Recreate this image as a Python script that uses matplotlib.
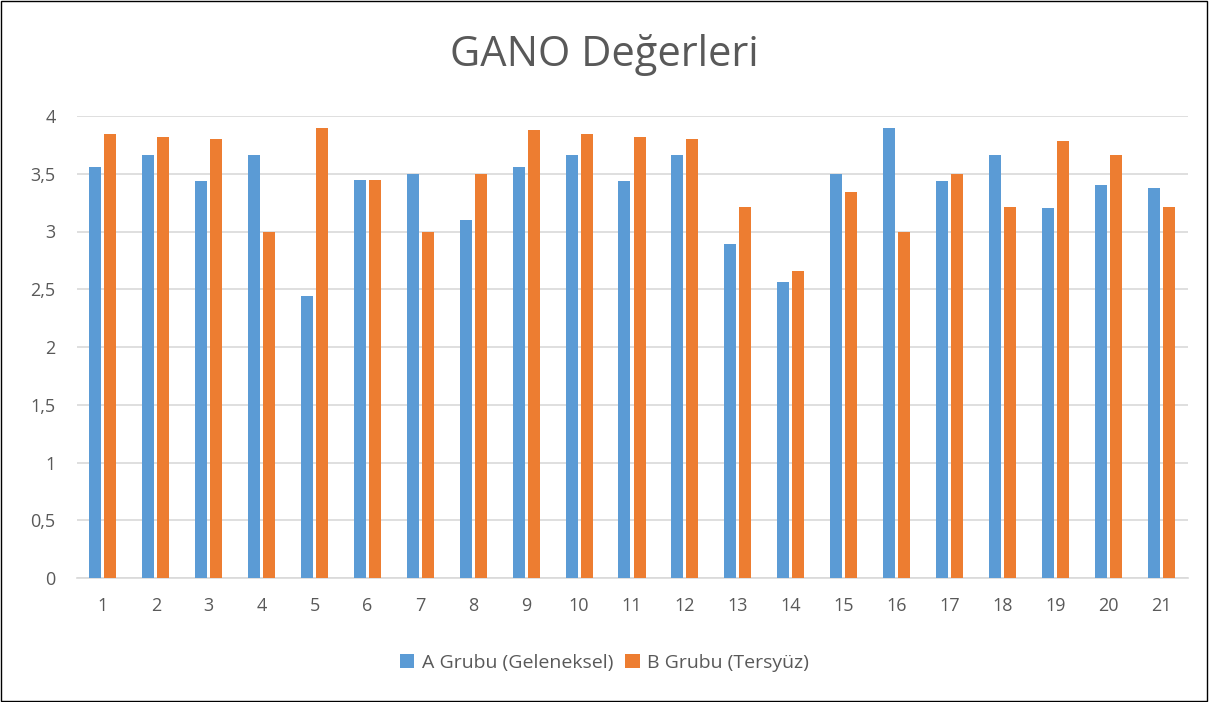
import numpy as np
import matplotlib
matplotlib.use("Agg")
import matplotlib.pyplot as plt
from matplotlib.ticker import FuncFormatter
from matplotlib.patches import Rectangle

# data
categories = [str(i) for i in range(1, 22)]
grup_a = [3.56, 3.66, 3.44, 3.66, 2.44, 3.45, 3.50, 3.10, 3.56, 3.66, 3.44,
          3.66, 2.89, 2.56, 3.50, 3.90, 3.44, 3.66, 3.20, 3.40, 3.38]
grup_b = [3.84, 3.82, 3.80, 3.00, 3.90, 3.45, 3.00, 3.50, 3.88, 3.84, 3.82,
          3.80, 3.21, 2.66, 3.34, 3.00, 3.50, 3.21, 3.78, 3.66, 3.21]
series_names = ["A Grubu (Geleneksel)", "B Grubu (Tersyüz)"]
title = "GANO Değerleri"

plt.rcParams['font.family'] = ['Open Sans', 'DejaVu Sans']
text_col = "#595959"
blue = "#5b9bd5"
orange = "#ed7d31"

fig = plt.figure(figsize=(12.09, 7.02), dpi=100)
ax = fig.add_axes([76.5 / 1209, 1 - 578 / 702, 1111 / 1209, 462 / 702])

x = np.arange(len(categories))
w = 0.227
off = 0.142
ax.bar(x - off, grup_a, w, color=blue, label=series_names[0], zorder=3)
ax.bar(x + off, grup_b, w, color=orange, label=series_names[1], zorder=3)

ax.set_xlim(-0.5, len(categories) - 0.5)
ax.set_ylim(0, 4)
ax.set_yticks(np.arange(0, 4.01, 0.5))
ax.yaxis.set_major_formatter(FuncFormatter(lambda v, p: ("%g" % v).replace(".", ",")))
ax.set_xticks(x)
ax.set_xticklabels(categories)
ax.tick_params(length=0, labelsize=13, colors=text_col)
ax.tick_params(axis='x', pad=14)
ax.tick_params(axis='y', pad=15)
ax.grid(axis='y', color="#d9d9d9", linewidth=1.2, zorder=0)
for s in ["top", "right", "left"]:
    ax.spines[s].set_visible(False)
ax.spines["bottom"].set_color("#d9d9d9")
ax.spines["bottom"].set_linewidth(1.2)

fig.text(0.5, 1 - 55 / 702, title, ha="center", va="center", fontsize=30, color=text_col)

fig.legend(loc="center", bbox_to_anchor=(0.5, 1 - 663 / 702), ncol=2, frameon=False,
           fontsize=14, labelcolor=text_col, handlelength=0.75, handleheight=0.75,
           handletextpad=0.4, columnspacing=0.6)

fig.patches.append(Rectangle((0.001, 0.001), 0.997, 0.997, transform=fig.transFigure,
                             fill=False, edgecolor="black", linewidth=1))

fig.savefig("out.png", dpi=100)
